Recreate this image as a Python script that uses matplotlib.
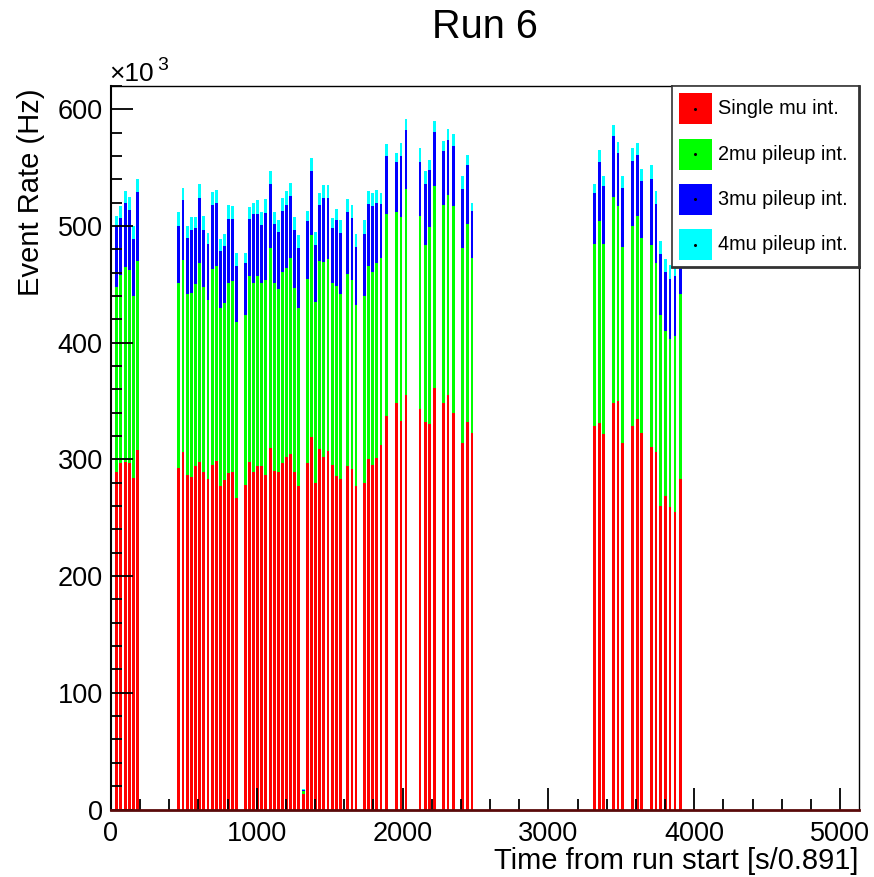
"""Stacked event-rate histogram for Run 6, split by muon pileup multiplicity."""

import matplotlib
matplotlib.use("Agg")
import matplotlib.pyplot as plt
import matplotlib.patches as mpatches
from matplotlib.ticker import MultipleLocator
import numpy as np

plt.rcParams["font.family"] = ["Liberation Sans", "DejaVu Sans"]

# ── Data (rates in units of 10^3 Hz) ───────────────────────────────────
spill_time = [
    40, 68, 97, 125, 153, 182,
    466, 494, 523, 551, 580, 608, 636, 665, 693, 721, 750, 778, 807, 835, 863,
    920, 949, 977, 1005, 1034, 1062, 1091, 1119, 1147, 1176, 1204, 1233, 1261, 1289,
    1318,
    1346, 1375, 1403, 1431, 1460, 1488, 1517, 1545, 1573,
    1623, 1653, 1680,
    1737, 1767, 1795, 1824, 1852, 1892,
    1955, 1989, 2023,
    2119, 2154, 2183, 2217,
    2282, 2311, 2346,
    2412, 2442, 2476,
    3318, 3349, 3380, 3448, 3477, 3510, 3578, 3608, 3640, 3704, 3738, 3770,
    3802, 3834, 3868, 3903,
]
single_mu = [
    289, 297, 298, 297, 284, 308,
    293, 306, 287, 285, 294, 298, 289, 283, 295, 299, 277, 282, 288, 289, 267,
    278, 298, 289, 294, 294, 287, 310, 290, 289, 297, 302, 305, 289, 277,
    13,
    297, 319, 280, 309, 302, 307, 295, 286, 283,
    294, 292, 277,
    280, 300, 295, 301, 312, 337,
    348, 333, 355,
    343, 332, 330, 361,
    348, 355, 340,
    314, 332, 323,
    329, 331, 322, 348, 350, 314, 329, 335, 323, 311, 306, 260,
    269, 259, 255, 283,
]
pileup_2mu = [
    159, 161, 167, 165, 156, 162,
    158, 165, 155, 158, 156, 170, 159, 154, 168, 167, 153, 152, 163, 164, 151,
    146, 159, 162, 163, 157, 167, 171, 161, 157, 164, 162, 168, 158, 153,
    3,
    158, 173, 155, 161, 167, 165, 156, 163, 159,
    165, 162, 155,
    160, 166, 166, 167, 161, 173,
    164, 175, 177,
    166, 152, 169, 173,
    170, 172, 177,
    167, 170, 150,
    156, 173, 163, 177, 167, 168, 171, 174, 167, 173, 162, 164,
    141, 144, 151, 159,
]
pileup_3mu = [
    52, 49, 55, 52, 49, 59,
    49, 51, 48, 54, 48, 56, 49, 48, 55, 54, 49, 49, 55, 53, 48,
    44, 49, 59, 53, 50, 57, 55, 51, 49, 52, 54, 53, 50, 51,
    1,
    49, 55, 49, 48, 55, 52, 47, 56, 52,
    53, 53, 50,
    53, 53, 56, 52, 46, 50,
    43, 52, 50,
    46, 52, 49, 47,
    46, 47, 52,
    51, 50, 40,
    43, 51, 49, 52, 46, 51, 56, 52, 49, 56, 51, 52,
    51, 52, 51, 48,
]
pileup_4mu = [
    9, 10, 10, 11, 11, 11,
    12, 11, 10, 11, 10, 12, 12, 9, 11, 11, 10, 10, 12, 11, 11,
    9, 10, 10, 12, 11, 12, 11, 10, 10, 11, 12, 11, 11, 11,
    0.5,
    9, 11, 11, 10, 11, 11, 9, 10, 11,
    11, 11, 11,
    12, 11, 11, 11, 9, 10,
    8, 11, 10,
    12, 11, 9, 9,
    9, 9, 10,
    11, 9, 7,
    8, 10, 9, 10, 9, 10, 11, 10, 10, 12, 11, 11,
    11, 12, 7, 10,
]

labels = ["Single mu int.", "2mu pileup int.", "3mu pileup int.", "4mu pileup int."]
colors = ["#ff0000", "#00ff00", "#0000ff", "#00ffff"]

# ── Figure ────────────────────────────────────────────────────────────
W, H = 874, 877
fig = plt.figure(figsize=(W / 100, H / 100), dpi=100)
fig.patch.set_facecolor("white")

x0, x1, y_top, y_bot = 111, 859, 86, 809.5
ax = fig.add_axes([x0 / W, 1 - y_bot / H, (x1 - x0) / W, (y_bot - y_top) / H])

t = np.array(spill_time, dtype=float)
bottom = np.zeros_like(t)
for vals, col in zip([single_mu, pileup_2mu, pileup_3mu, pileup_4mu], colors):
    v = np.array(vals, dtype=float)
    ax.bar(t, v, width=20, bottom=bottom, color=col, linewidth=0, align="center")
    bottom += v

ax.set_xlim(0, 5130)
ax.set_ylim(0, 620)

ax.xaxis.set_major_locator(MultipleLocator(1000))
ax.xaxis.set_minor_locator(MultipleLocator(200))
ax.yaxis.set_major_locator(MultipleLocator(100))
ax.yaxis.set_minor_locator(MultipleLocator(20))
ax.tick_params(which="both", direction="in", top=False, right=False,
               width=1.3, color="black")
ax.tick_params(which="major", length=15.5, labelsize=19.5)
ax.tick_params(which="minor", length=7.8)
ax.tick_params(axis="y", which="major", pad=6)
ax.tick_params(axis="x", which="major", pad=8)

for side in ["left", "top", "right"]:
    ax.spines[side].set_linewidth(1.0)
    ax.spines[side].set_color("black")
ax.spines["left"].set_linewidth(1.5)
ax.spines["bottom"].set_linewidth(2.0)
ax.spines["bottom"].set_color("#5a0a0a")

# Axis titles, ROOT style: flush with the far end of each axis
fig.text(x1 / W, 1 - 861 / H, "Time from run start [s/0.891]",
         ha="right", va="center", fontsize=21)
fig.text(31 / W, 1 - 88 / H, "Event Rate (Hz)", rotation=90,
         ha="center", va="top", fontsize=21)
fig.text(109 / W, 1 - 74 / H, "\u00d710", ha="left", va="center", fontsize=19)
fig.text(157 / W, 1 - 65 / H, "3", ha="left", va="center", fontsize=14)

fig.text(485 / W, 1 - 27 / H, "Run 6", ha="center", va="center", fontsize=28.5)

# ── Legend box ───────────────────────────────────────────────────────
lx0, lx1, ly0, ly1 = 672, 859, 86, 266.7
leg = fig.add_axes([lx0 / W, 1 - ly1 / H, (lx1 - lx0) / W, (ly1 - ly0) / H])
leg.set_xlim(lx0, lx1)
leg.set_ylim(ly1, ly0)
leg.set_xticks([])
leg.set_yticks([])
leg.set_facecolor("white")
for sp in leg.spines.values():
    sp.set_color("#333333")
    sp.set_linewidth(1.2)
leg.spines["right"].set_linewidth(2.0)
leg.spines["bottom"].set_linewidth(2.0)

row_step = 45.3
for i, (lab, col) in enumerate(zip(labels, colors)):
    yc = 108.8 + i * row_step
    leg.add_patch(mpatches.Rectangle((679, yc - 15.5), 33, 31, facecolor=col,
                                     edgecolor="none"))
    leg.plot([695.5], [yc], marker="o", markersize=1.2, color="black")
    leg.text(718, yc, lab, ha="left", va="center", fontsize=14.3)

fig.savefig("out.png", dpi=100, facecolor="white")
